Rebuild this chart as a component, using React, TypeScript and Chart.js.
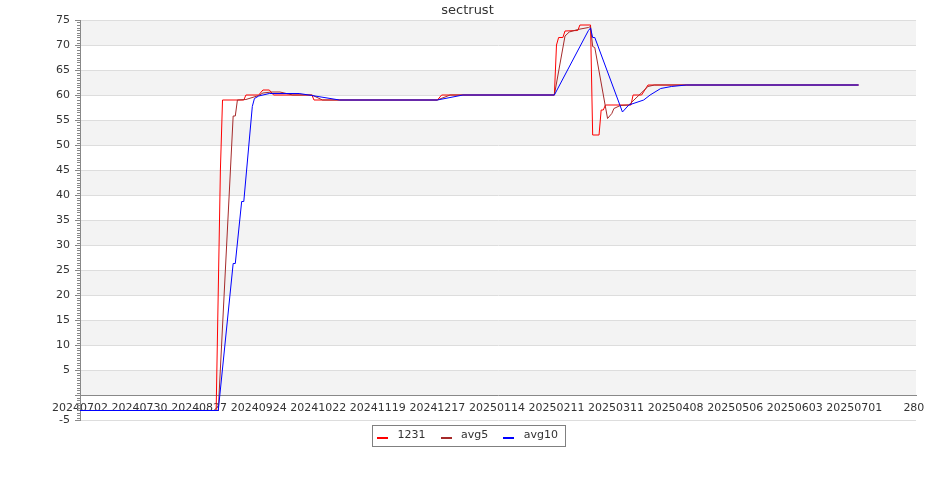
import React, { useEffect, useRef } from 'react';
import { Chart, registerables } from 'chart.js';

Chart.register(...registerables);

// ---- data ----
const titleText = 'sectrust';

// x axis: days counted from 20240702
const xTickDays = [0, 28, 56, 84, 112, 140, 168, 196, 224, 252, 280, 308, 336, 364, 392];
const xTickLabels = [
  '20240702', '20240730', '20240827', '20240924', '20241022', '20241119', '20241217',
  '20250114', '20250211', '20250311', '20250408', '20250506', '20250603', '20250701', '280',
];
const xMaxDay = 393;

const yMin = -5;
const yMax = 75;
const yStep = 5;

const seriesNames = ['1231', 'avg5', 'avg10'];
const seriesColors = ['#ff0000', '#a52a2a', '#0000ff'];

const days1231 = [0, 64, 66, 67, 77, 78, 84, 86, 89, 91, 109, 110, 168, 170, 223, 224, 225, 227, 228, 234, 235, 240, 241, 244, 245, 246, 247, 259, 260, 264, 267, 366];
const values1231 = [-3.1, -3.1, 45, 59, 59, 60, 60, 61, 61, 60, 60, 59, 59, 60, 60, 70, 71.5, 71.5, 72.8, 72.9, 74, 74, 52, 52, 57, 57, 58, 58, 60, 60, 62, 62];

const daysAvg5 = [0, 65, 72, 73, 74, 78, 84, 86, 90, 94, 98, 100, 109, 114, 168, 174, 223, 228, 230, 234, 239, 240, 241, 242, 248, 250, 251, 254, 258, 267, 270, 366];
const valuesAvg5 = [-3.1, -3.1, 55.8, 55.8, 59, 59.1, 59.9, 60.4, 60.6, 60.6, 60.2, 60, 60, 59, 59, 60, 60, 71.8, 72.6, 73.1, 73.5, 73.7, 69.7, 69.5, 55.3, 56.3, 57.3, 57.9, 58, 61.7, 62, 62];

const daysAvg10 = [0, 65, 72, 73, 76, 77, 81, 82, 84, 89, 103, 109, 122, 168, 180, 223, 239, 240, 241, 242, 255, 258, 265, 268, 273, 278, 285, 366];
const valuesAvg10 = [-3.1, -3.1, 26.3, 26.3, 38.7, 38.7, 57.7, 59.3, 59.8, 60.3, 60.3, 59.9, 59, 59, 60, 60, 72.9, 73.4, 71.5, 71.5, 56.6, 58, 59, 60, 61.3, 61.7, 62, 62];

const seriesDays = [days1231, daysAvg5, daysAvg10];
const seriesValues = [values1231, valuesAvg5, valuesAvg10];

const FONT = 'DejaVu Sans';

const bandsPlugin = {
  id: 'bands',
  beforeDraw(chart: any) {
    const { ctx, chartArea, scales } = chart;
    const y = scales.y;
    ctx.save();
    ctx.fillStyle = '#f3f3f3';
    y.ticks.forEach((t: any) => {
      const v = t.value;
      if (v >= 0 && Math.round(v / yStep) % 2 === 0 && v + yStep <= y.max) {
        const top = y.getPixelForValue(v + yStep);
        const bot = y.getPixelForValue(v);
        ctx.fillRect(chartArea.left, top, chartArea.right - chartArea.left, bot - top);
      }
    });
    ctx.restore();
  },
};

const minorTicksPlugin = {
  id: 'minorTicks',
  afterDraw(chart: any) {
    const { ctx, chartArea, scales } = chart;
    const y = scales.y;
    ctx.save();
    ctx.strokeStyle = '#888888';
    ctx.lineWidth = 1;
    ctx.beginPath();
    for (let v = y.min; v <= y.max + 1e-9; v += 0.5) {
      if (Math.abs(v / yStep - Math.round(v / yStep)) < 1e-9) continue;
      const py = Math.round(y.getPixelForValue(v)) + 0.5;
      ctx.moveTo(chartArea.left - 3, py);
      ctx.lineTo(chartArea.left, py);
    }
    ctx.stroke();
    ctx.restore();
  },
};

const LEGEND_SHIFT = 5;

const legendBoxPlugin = {
  id: 'legendBox',
  afterLayout(chart: any) {
    const legend = chart.legend;
    if (legend) {
      legend.top -= LEGEND_SHIFT;
      legend.bottom -= LEGEND_SHIFT;
    }
  },
  afterDraw(chart: any) {
    const legend = chart.legend;
    if (!legend || !legend.legendHitBoxes || !legend.legendHitBoxes.length) return;
    const hb = legend.legendHitBoxes;
    const { ctx } = chart;
    ctx.save();
    hb.forEach((h: any, i: number) => {
      ctx.fillStyle = seriesColors[i];
      ctx.fillRect(Math.round(h.left), Math.round(h.top) + 7, 11, 2);
    });
    const first = hb[0];
    const last = hb[hb.length - 1];
    const x1 = Math.round(first.left - 5) + 0.5;
    const x2 = Math.round(last.left + last.width + 7.5) + 0.5;
    const y1 = Math.round(first.top - 5) + 0.5;
    const y2 = Math.round(first.top + 16) + 0.5;
    ctx.strokeStyle = '#808080';
    ctx.lineWidth = 1;
    ctx.strokeRect(x1, y1, x2 - x1, y2 - y1);
    ctx.restore();
  },
};

export default function App() {
  const canvasRef = useRef<HTMLCanvasElement | null>(null);

  useEffect(() => {
    const canvas = canvasRef.current;
    if (!canvas) return;
    Chart.defaults.font.family = FONT;

    const datasets = seriesNames.map((name, i) => ({
      label: name,
      data: seriesDays[i].map((d, j) => ({ x: d, y: seriesValues[i][j] })),
      borderColor: seriesColors[i],
      backgroundColor: seriesColors[i],
      borderWidth: 1,
      pointRadius: 0,
      pointHoverRadius: 0,
      tension: 0,
      fill: false,
      order: seriesNames.length - 1 - i,
    }));

    const chart = new Chart(canvas, {
      type: 'line',
      data: { datasets },
      options: {
        animation: false,
        responsive: false,
        devicePixelRatio: 1,
        events: [],
        layout: { padding: { left: 19, right: 19, top: 0, bottom: 44 } },
        plugins: {
          title: {
            display: true,
            text: titleText,
            color: '#333333',
            font: { family: FONT, size: 13, weight: 'normal' },
            padding: { top: 3, bottom: 1.4 },
          },
          legend: {
            display: true,
            position: 'bottom',
            labels: {
              boxWidth: 15,
              boxHeight: 2,
              padding: 15,
              color: '#333333',
              font: { family: FONT, size: 11 },
              generateLabels: (ch: any) =>
                ch.data.datasets.map((ds: any, i: number) => ({
                  text: ds.label,
                  fillStyle: 'rgba(0,0,0,0)',
                  strokeStyle: 'rgba(0,0,0,0)',
                  lineWidth: 0,
                  hidden: false,
                  datasetIndex: i,
                  fontColor: '#333333',
                })),
            },
          },
          tooltip: { enabled: false },
        },
        scales: {
          x: {
            type: 'linear',
            min: 0,
            max: xMaxDay,
            position: { y: 0 },
            afterBuildTicks: (s: any) => {
              s.ticks = xTickDays.map((v) => ({ value: v }));
            },
            ticks: {
              autoSkip: false,
              maxRotation: 0,
              minRotation: 0,
              padding: 7,
              color: '#333333',
              font: { family: FONT, size: 11 },
              callback: (v: any) => {
                const idx = xTickDays.indexOf(Number(v));
                return idx >= 0 ? xTickLabels[idx] : '';
              },
            },
            grid: { display: false, drawTicks: false },
            border: { display: true, color: '#888888', width: 1 },
          },
          y: {
            type: 'linear',
            min: yMin,
            max: yMax,
            afterFit: (s: any) => {
              s.width = 61;
            },
            ticks: {
              stepSize: yStep,
              padding: 5,
              color: '#333333',
              font: { family: FONT, size: 11 },
              callback: (v: any) => (Number(v) === 0 ? '' : String(v)),
            },
            grid: { color: '#dddddd', tickColor: '#888888', tickLength: 5, lineWidth: 1 },
            border: { display: true, color: '#888888', width: 1 },
          },
        },
      },
      plugins: [bandsPlugin, minorTicksPlugin, legendBoxPlugin],
    } as any);

    return () => chart.destroy();
  }, []);

  return (
    <div style={{ position: 'absolute', left: 0, top: 0, width: 935, height: 500 }}>
      <canvas ref={canvasRef} width={935} height={500} style={{ width: 935, height: 500, display: 'block' }} />
    </div>
  );
}
